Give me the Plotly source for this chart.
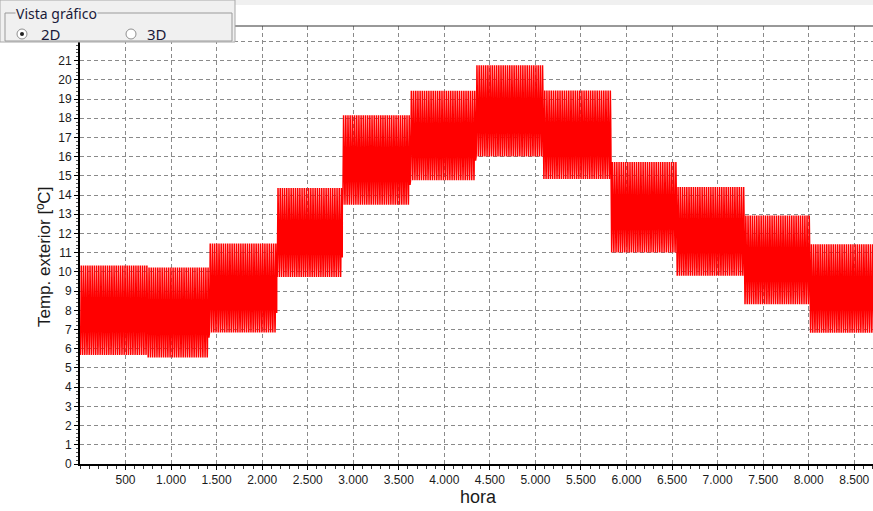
import plotly.graph_objects as go

# ---- data -----------------------------------------------------------
month_start_hour = [0, 744, 1416, 2160, 2880, 3624, 4344, 5088, 5832, 6552, 7296, 8016]
month_end_hour = [744, 1416, 2160, 2880, 3624, 4344, 5088, 5832, 6552, 7296, 8016, 8760]
month_tmax = [10.33, 10.23, 11.48, 14.37, 18.15, 19.43, 20.76, 19.44, 15.72, 14.42, 12.94, 11.44]
month_tmin = [5.68, 5.54, 6.84, 9.73, 13.50, 14.77, 16.01, 14.84, 11.01, 9.80, 8.32, 6.83]
# typical normalised daily profile (0 = daily min, 1 = daily max), hour 0..23
daily_profile = [0.16, 0.11, 0.07, 0.04, 0.01, 0.0, 0.03, 0.11, 0.26, 0.43, 0.60, 0.75,
                 0.87, 0.95, 1.0, 0.98, 0.92, 0.82, 0.70, 0.58, 0.47, 0.37, 0.29, 0.22]

x_tick_vals = [500, 1000, 1500, 2000, 2500, 3000, 3500, 4000, 4500, 5000, 5500, 6000, 6500, 7000, 7500, 8000, 8500]
x_tick_text = ["500", "1.000", "1.500", "2.000", "2.500", "3.000", "3.500", "4.000", "4.500",
               "5.000", "5.500", "6.000", "6.500", "7.000", "7.500", "8.000", "8.500"]
y_tick_vals = list(range(0, 23))
y_tick_text = [str(v) for v in range(0, 22)] + [""]

# build hourly series from monthly min/max and the daily profile
hours, temps = [], []
for s, e, tmx, tmn in zip(month_start_hour, month_end_hour, month_tmax, month_tmin):
    for h in range(s, e):
        hours.append(h)
        temps.append(tmn + daily_profile[h % 24] * (tmx - tmn))

W, H = 873, 511
L, R, T, B = 80, 0, 26, 47
PW, PH = W - L - R, H - T - B


def px(x):
    return (x - L) / PW


def py(y):
    return (H - B - y) / PH


fig = go.Figure()
fig.add_trace(go.Scatter(x=hours, y=temps, mode="lines",
                         line=dict(color="#ff0000", width=1.5), hoverinfo="skip",
                         showlegend=False))

tickfont = dict(family="Liberation Sans, Arial, sans-serif", size=12, color="#1a1a1a")
fig.update_layout(
    width=W, height=H,
    margin=dict(l=L, r=R, t=T, b=B),
    paper_bgcolor="white", plot_bgcolor="white",
    showlegend=False,
    xaxis=dict(range=[0, 8706], tickvals=x_tick_vals, ticktext=x_tick_text,
               showline=True, linecolor="black", linewidth=2,
               ticks="outside", ticklen=4, tickcolor="black", tickwidth=1,
               tickfont=tickfont, showgrid=True, gridcolor="#8a8a8a", gridwidth=1,
               griddash="4px,3px", zeroline=False,
               minor=dict(dtick=100, tick0=0, ticks="outside", ticklen=3, tickcolor="#333", showgrid=False)),
    yaxis=dict(range=[0, 22.8], tickvals=y_tick_vals, ticktext=y_tick_text,
               showline=True, linecolor="black", linewidth=2,
               ticks="outside", ticklen=4, tickcolor="black", tickwidth=1,
               tickfont=tickfont, showgrid=True, gridcolor="#8a8a8a", gridwidth=1,
               griddash="4px,3px", zeroline=False,
               minor=dict(dtick=0.2, tick0=0, ticks="outside", ticklen=2, tickcolor="#555", showgrid=False)),
)

shapes = []
annotations = []
# top strip
shapes.append(dict(type="rect", xref="paper", yref="paper", x0=px(0), x1=px(W), y0=py(0), y1=py(5),
                   fillcolor="#f0f0f0", line=dict(width=0), layer="above"))
# top border of plot area
shapes.append(dict(type="line", xref="paper", yref="paper", x0=0, x1=1, y0=1, y1=1,
                   line=dict(color="#333333", width=1), layer="above"))
# group box background
shapes.append(dict(type="rect", xref="paper", yref="paper", x0=px(0), x1=px(235), y0=py(0), y1=py(42),
                   fillcolor="#f0f0f0", line=dict(color="#a8a8a8", width=1), layer="above"))
# group frame
shapes.append(dict(type="rect", xref="paper", yref="paper", x0=px(5), x1=px(232), y0=py(13), y1=py(41),
                   fillcolor="rgba(0,0,0,0)", line=dict(color="#9a9a9a", width=1), layer="above"))
# radio buttons
for cx, sel in [(22, True), (131, False)]:
    shapes.append(dict(type="circle", xref="paper", yref="paper", x0=px(cx - 5), x1=px(cx + 5),
                       y0=py(29), y1=py(39), fillcolor="white", line=dict(color="#8f8f8f", width=1),
                       layer="above"))
    if sel:
        shapes.append(dict(type="circle", xref="paper", yref="paper", x0=px(cx - 2), x1=px(cx + 2),
                           y0=py(32), y1=py(36), fillcolor="#222", line=dict(color="#222", width=0),
                           layer="above"))

uifont = dict(family="Noto Sans, DejaVu Sans, sans-serif", size=14, color="#1a1a3a")
annotations.append(dict(text="Vista gráfico", xref="paper", yref="paper", x=px(15), y=py(13),
                        xanchor="left", yanchor="middle", showarrow=False, font=uifont,
                        bgcolor="#f0f0f0", borderpad=0))
annotations.append(dict(text="2D", xref="paper", yref="paper", x=px(39), y=py(34),
                        xanchor="left", yanchor="middle", showarrow=False, font=dict(uifont, size=15)))
annotations.append(dict(text="3D", xref="paper", yref="paper", x=px(145), y=py(34),
                        xanchor="left", yanchor="middle", showarrow=False, font=dict(uifont, size=15)))
# axis titles
annotations.append(dict(text="Temp. exterior [ºC]", xref="paper", yref="paper", x=px(44), y=py(257),
                        xanchor="center", yanchor="middle", textangle=-90, showarrow=False,
                        font=dict(family="Liberation Sans, Arial, sans-serif", size=17, color="#1a1a1a")))
annotations.append(dict(text="hora", xref="paper", yref="paper", x=px(478), y=py(497),
                        xanchor="center", yanchor="middle", showarrow=False,
                        font=dict(family="Liberation Sans, Arial, sans-serif", size=18, color="#1a1a1a")))

fig.update_layout(shapes=shapes, annotations=annotations)
fig.write_html("out.html", config={"displayModeBar": False},
               post_script="document.body.style.margin='0';document.body.style.padding='0';"
                           "document.body.style.overflow='hidden';")
